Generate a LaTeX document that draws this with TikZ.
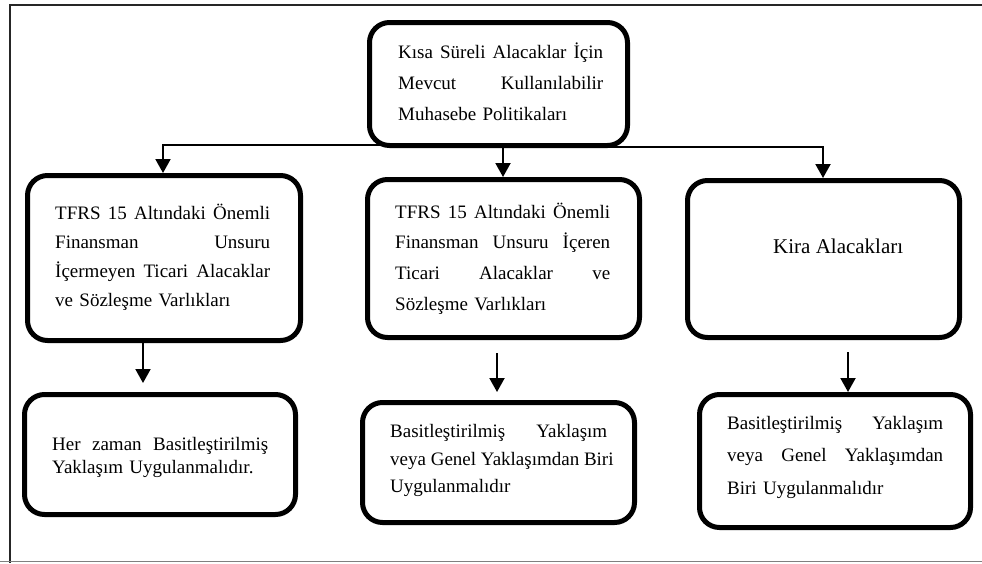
\documentclass[tikz,border=0pt]{standalone}
\usepackage{fontspec}
\setmainfont{Liberation Serif}
\usetikzlibrary{arrows.meta,backgrounds}
\newcommand{\jl}[2]{\leavevmode\hbox to #1{\spaceskip=0.25em plus 1fil\relax #2}}
\begin{document}
\begin{tikzpicture}[x=1pt,y=-1pt,
  box/.style={draw,line width=5pt,rounded corners=20pt,fill=white,inner sep=0pt},
  txt/.style={anchor=base west,inner sep=0pt,align=left},
  arr/.style={line width=2pt,-{Triangle[width=15pt,length=14pt]}},
  frame/.style={line width=2pt,black!85}]
\useasboundingbox (0,0) rectangle (982,563);
% frame
\draw[frame] (9,4.5) -- (982,4.5);
\draw[frame] (10,4) -- (10,563);
\draw[line width=1pt,gray] (0,561.5) -- (982,561.5);
% boxes
\node[box,minimum width=258pt,minimum height=123pt] (top) at (498.5,84) {};
\node[box,minimum width=273pt,minimum height=165pt] (b1) at (164,258) {};
\node[box,minimum width=272pt,minimum height=158pt] (b2) at (503.5,258.5) {};
\node[box,minimum width=272pt,minimum height=157pt] (b3) at (823.5,259) {};
\node[box,minimum width=271pt,minimum height=120pt] (b4) at (160,454.5) {};
\node[box,minimum width=272pt,minimum height=120pt] (b5) at (498.5,462.5) {};
\node[box,minimum width=271pt,minimum height=133pt] (b6) at (835,461) {};
% texts
\node[txt,text width=205pt,font=\fontsize{19}{31}\selectfont] (topt) at (398,58)
  {\jl{205pt}{Kısa Süreli Alacaklar İçin}\\\jl{205pt}{Mevcut Kullanılabilir}\\Muhasebe Politikaları};
\node[txt,text width=215pt,font=\fontsize{19}{29.3}\selectfont] (b1t) at (55,219)
  {\jl{215pt}{TFRS 15 Altındaki Önemli}\\\jl{215pt}{Finansman Unsuru}\\\jl{215pt}{İçermeyen Ticari Alacaklar}\\ve Sözleşme Varlıkları};
\node[txt,text width=215pt,font=\fontsize{19}{30.7}\selectfont] (b2t) at (395,218)
  {\jl{215pt}{TFRS 15 Altındaki Önemli}\\\jl{215pt}{Finansman Unsuru İçeren}\\\jl{215pt}{Ticari Alacaklar ve}\\Sözleşme Varlıkları};
\node[txt,font=\fontsize{21}{25}\selectfont] (b3t) at (773,253) {Kira Alacakları};
\node[txt,text width=216pt,font=\fontsize{19}{23.5}\selectfont] (b4t) at (52,450)
  {\jl{216pt}{Her zaman Basitleştirilmiş}\\Yaklaşım Uygulanmalıdır.};
\node[txt,text width=217pt,font=\fontsize{19}{27.5}\selectfont] (b5t) at (390,437.5)
  {\jl{217pt}{Basitleştirilmiş Yaklaşım}\\\jl{217pt}{veya Genel Yaklaşımdan Biri}\\Uygulanmalıdır};
\node[txt,text width=216pt,font=\fontsize{19}{32.5}\selectfont] (b6t) at (727,429)
  {\jl{216pt}{Basitleştirilmiş Yaklaşım}\\\jl{216pt}{veya Genel Yaklaşımdan}\\Biri Uygulanmalıdır};
% connectors
\coordinate (k1) at (163,145);
\coordinate (k3) at (823,146.5);
\coordinate (k2) at (503,148);
\coordinate (c4) at (143,383);
\coordinate (c5s) at (497,353);
\coordinate (c5) at (497,392);
\coordinate (c6s) at (848,352);
\begin{pgfonlayer}{background}
\draw[arr] (top.center |- k1) -- (k1) -- (b1.north -| k1);
\draw[arr] (top.south -| k2) -- (b2.north -| k2);
\draw[arr] (top.center |- k3) -- (k3) -- (b3.north -| k3);
\draw[arr] (b1.south -| c4) -- (c4);
\draw[arr] (c5s) -- (c5);
\draw[arr] (c6s) -- (b6.north -| c6s);
\end{pgfonlayer}
\end{tikzpicture}
\end{document}
